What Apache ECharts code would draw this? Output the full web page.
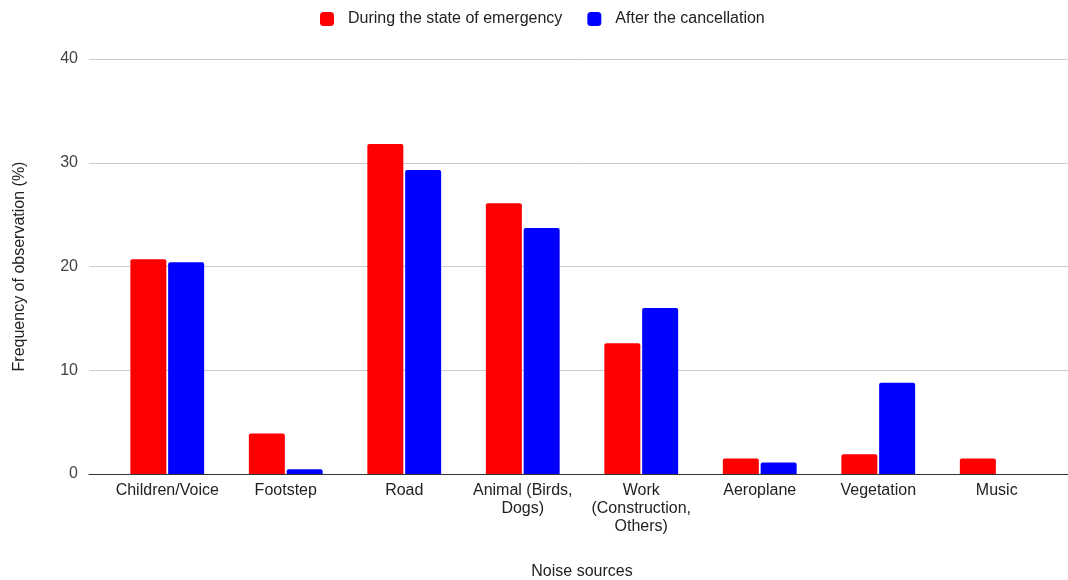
<!DOCTYPE html>
<html>
<head>
<meta charset="utf-8">
<script src="https://cdn.jsdelivr.net/npm/echarts@6/dist/echarts.min.js"></script>
<style>
html,body{margin:0;padding:0;background:#fff;}
#chart{width:1068px;height:580px;}
</style>
</head>
<body>
<div id="chart"></div>
<script>
const categories = ["Children/Voice", "Footstep", "Road", "Animal (Birds,\nDogs)", "Work\n(Construction,\nOthers)", "Aeroplane", "Vegetation", "Music"];
const duringEmergency = [20.7, 3.9, 31.8, 26.1, 12.6, 1.5, 1.9, 1.5];
const afterCancellation = [20.4, 0.45, 29.3, 23.7, 16.0, 1.1, 8.8, 0];
const yTicks = { min: 0, max: 40, interval: 10 };
const seriesNames = ["During the state of emergency", "After the cancellation"];
const colors = ["#ff0000", "#0000ff"];

const font = "Liberation Sans, Arial, sans-serif";
const chart = echarts.init(document.getElementById('chart'), null, { renderer: 'canvas' });
chart.setOption({
  animation: false,
  backgroundColor: '#fff',
  textStyle: { fontFamily: font },
  legend: {
    top: 6,
    left: 315,
    itemWidth: 14,
    itemHeight: 14,
    itemGap: 25,
    icon: 'roundRect',
    textStyle: { fontSize: 16, color: '#222', fontFamily: font, padding: [0, 0, 0, 9] },
    data: seriesNames
  },
  grid: [
    { left: 89, right: 0, top: 59, bottom: 106, containLabel: false, outerBoundsMode: 'none' },
    { left: 108, right: 12, top: 59, bottom: 106, containLabel: false, outerBoundsMode: 'none' }
  ],
  xAxis: [
    {
      gridIndex: 0, type: 'value', min: 0, max: 1,
      axisLine: { show: true, lineStyle: { color: '#333', width: 1 } },
      axisTick: { show: false }, axisLabel: { show: false }, splitLine: { show: false }
    },
    {
      gridIndex: 1, type: 'category', data: categories,
      axisLine: { show: false }, axisTick: { show: false },
      axisLabel: { fontSize: 16, color: '#222', margin: 8, lineHeight: 18, fontFamily: font, interval: 0 },
      name: 'Noise sources', nameLocation: 'middle', nameGap: 90,
      nameTextStyle: { fontSize: 16, color: '#222', fontFamily: font }
    }
  ],
  yAxis: [
    {
      gridIndex: 0, type: 'value', min: yTicks.min, max: yTicks.max, interval: yTicks.interval,
      axisLine: { show: false }, axisTick: { show: false },
      axisLabel: { fontSize: 16, color: '#444', margin: 11, fontFamily: font },
      splitLine: { show: true, lineStyle: { color: '#cccccc', width: 1 } },
      name: 'Frequency of observation (%)', nameLocation: 'middle', nameGap: 61,
      nameTextStyle: { fontSize: 16, color: '#222', fontFamily: font }
    },
    {
      gridIndex: 1, type: 'value', min: yTicks.min, max: yTicks.max, interval: yTicks.interval,
      axisLine: { show: false }, axisTick: { show: false }, axisLabel: { show: false },
      splitLine: { show: false }
    }
  ],
  series: [
    {
      name: seriesNames[0], type: 'bar', xAxisIndex: 1, yAxisIndex: 1,
      data: duringEmergency, barWidth: 36, barGap: '5%',
      itemStyle: { color: colors[0], borderRadius: [2, 2, 0, 0] }
    },
    {
      name: seriesNames[1], type: 'bar', xAxisIndex: 1, yAxisIndex: 1,
      data: afterCancellation, barWidth: 36, barGap: '5%',
      itemStyle: { color: colors[1], borderRadius: [2, 2, 0, 0] }
    }
  ]
});
</script>
</body>
</html>
